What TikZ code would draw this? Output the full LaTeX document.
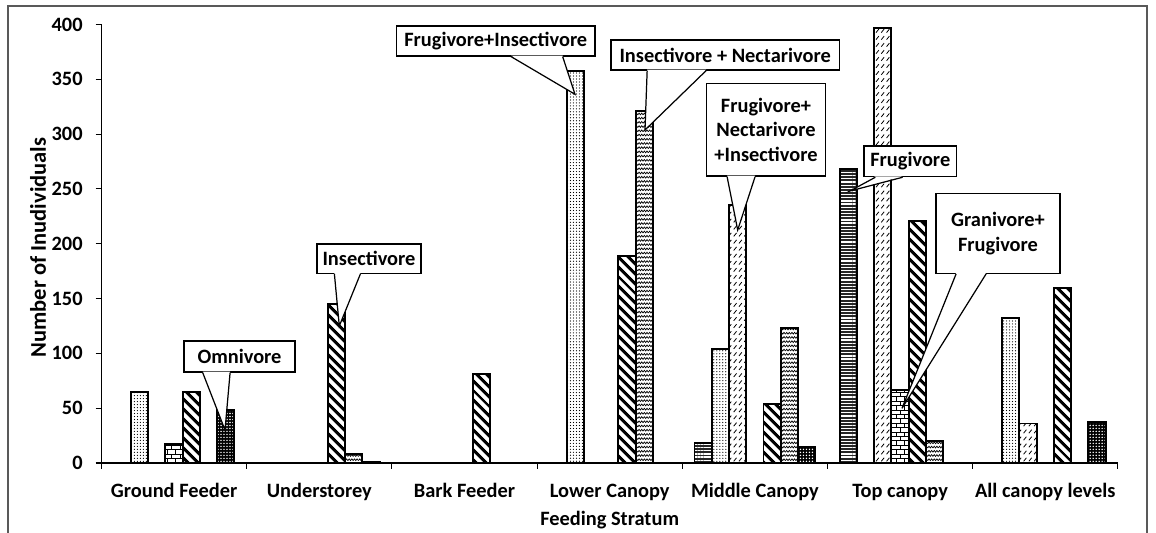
\documentclass[tikz,border=0pt]{standalone}
\usepackage{fontspec}
\setmainfont{Carlito}
\usetikzlibrary{patterns,patterns.meta,calc}

\pgfdeclarepatternformonly{dashslash}{\pgfqpoint{-0.5pt}{-0.5pt}}{\pgfqpoint{3.5pt}{4.5pt}}{\pgfqpoint{3pt}{4pt}}{%
  \pgfsetlinewidth{0.45pt}
  \pgfpathmoveto{\pgfqpoint{0.6pt}{0.8pt}}
  \pgfpathlineto{\pgfqpoint{2.2pt}{2.8pt}}
  \pgfusepath{stroke}}
\pgfdeclarepatternformonly{wavelet}{\pgfqpoint{-0.5pt}{-0.5pt}}{\pgfqpoint{3.5pt}{3pt}}{\pgfqpoint{3pt}{2.4pt}}{%
  \pgfsetlinewidth{0.4pt}
  \pgfpathmoveto{\pgfqpoint{0pt}{0.4pt}}
  \pgfpathlineto{\pgfqpoint{0.75pt}{1.4pt}}
  \pgfpathlineto{\pgfqpoint{1.5pt}{0.4pt}}
  \pgfpathlineto{\pgfqpoint{2.25pt}{1.4pt}}
  \pgfpathlineto{\pgfqpoint{3pt}{0.4pt}}
  \pgfusepath{stroke}}
\pgfdeclarepatternformonly{smallbricks}{\pgfqpoint{-0.5pt}{-0.5pt}}{\pgfqpoint{5.5pt}{5.5pt}}{\pgfqpoint{5pt}{5pt}}{%
  \pgfsetlinewidth{0.45pt}
  \pgfpathmoveto{\pgfqpoint{0pt}{0pt}}\pgfpathlineto{\pgfqpoint{5pt}{0pt}}
  \pgfpathmoveto{\pgfqpoint{0pt}{2.5pt}}\pgfpathlineto{\pgfqpoint{5pt}{2.5pt}}
  \pgfpathmoveto{\pgfqpoint{0pt}{0pt}}\pgfpathlineto{\pgfqpoint{0pt}{2.5pt}}
  \pgfpathmoveto{\pgfqpoint{2.5pt}{2.5pt}}\pgfpathlineto{\pgfqpoint{2.5pt}{5pt}}
  \pgfusepath{stroke}}

\tikzset{
  bar/.style={draw=black, line width=1.1pt},
  ser0/.style={bar, preaction={fill=black!85}, pattern={Lines[angle=0,distance=1.8pt,line width=0.7pt]}, pattern color=white},
  ser1/.style={bar, pattern={Dots[distance=1.7pt,radius=0.35pt]}},
  ser2/.style={bar, pattern=dashslash},
  ser3/.style={bar, pattern=smallbricks},
  ser4/.style={bar, pattern={Lines[angle=-45,distance=4pt,line width=1.8pt]}},
  ser5/.style={bar, pattern=wavelet},
  ser6/.style={bar, preaction={fill=black}, pattern={Dots[distance=1.7pt,radius=0.45pt]}, pattern color=white},
  axisline/.style={line width=0.6pt},
  callbox/.style={draw, fill=white, line width=0.7pt, inner sep=0pt, align=center},
  callline/.style={line width=0.7pt, line join=miter}
}

\begin{document}
\begin{tikzpicture}[x=0.02cm, y=0.02cm, font=\fontsize{11.6}{14}\selectfont\bfseries]
\fill[white] (0,0) rectangle (1156,533);
\useasboundingbox (0,0) rectangle (1156,533);
\draw[black!65, line width=0.7pt] (8,-5) -- (8,527) -- (1147,527) -- (1147,-5);

% bars and axes
\begin{scope}[shift={(101.5,70)}, y=0.02192cm]
  \foreach \c/\s/\v in {0/1/65, 0/3/17, 0/4/65, 0/6/48,
                        1/4/145, 1/5/8, 1/6/1,
                        2/4/81,
                        3/1/358, 3/4/189, 3/5/321,
                        4/0/18, 4/1/104, 4/2/235, 4/4/54, 4/5/123, 4/6/15,
                        5/0/268, 5/2/397, 5/3/67, 5/4/221, 5/5/20,
                        6/1/132, 6/2/36, 6/4/160, 6/6/37}
    \draw[ser\s] ({\c*145.2+12.2+\s*17.25},0) rectangle ++(17.25,\v);
  \draw[axisline] (0,400) -- (0,0) -- (1016.4,0);
  \foreach \t in {0,50,...,400} {
    \draw[axisline] (-6,\t) -- (0,\t);
    \node[anchor=east, inner sep=0pt] (yt\t) at (-18.5,\t) {\t};
  }
  \foreach \k in {0,...,7}
    \draw[axisline] ({\k*145.2},0) -- ({\k*145.2},-5.5);
\end{scope}

\foreach \n [count=\k from 0] in {Ground Feeder, Understorey, Bark Feeder, Lower Canopy,
                                   Middle Canopy, Top canopy, All canopy levels}
  \node[anchor=base, inner sep=0pt] (cat\k) at ({101.5+145.2*(\k+0.5)},35.7) {\n};
\node[rotate=90, inner sep=0pt, font=\fontsize{12.8}{14}\selectfont\bfseries] (ytitle) at (38,285.5) {Number of Inudividuals};
\node[anchor=base, inner sep=0pt] (xtitle) at (609.7,7) {Feeding Stratum};

% callouts
\foreach \nm/\cx/\cy/\w/\h/\bl/\br/\tx/\ty/\txt in {
    om/239.5/176.5/2.22/0.62/19.3/46.7/225/103/{Omnivore},
    ins/369/274.3/2.08/0.586/18/44/339.3/207/{Insectivore},
    fi/495.8/492/3.966/0.6/115/166.6/575/438.7/{Frugivore+Insectivore},
    inn/725.2/478/4.566/0.6/36.7/95.7/645/403/{Insectivore + Nectarivore},
    fni/766/403.3/2.372/1.854/21/49/737.7/303/{Frugivore+\\Nectarivore\\+Insectivore},
    fr/910.3/371.7/1.854/0.614/12/39.3/850/342/{Frugivore},
    gf/998/299.6/2.48/1.596/20.7/50.7/902/124.7/{Granivore+\\Frugivore}} {
  \coordinate (\nm tip) at (\tx,\ty);
  \node[callbox, minimum width=\w cm, minimum height=\h cm] (\nm) at (\cx,\cy) {\txt};
  \fill[white] ($(\nm.south west)+(\bl,1)$) -- (\nm tip) -- ($(\nm.south west)+(\br,1)$) -- cycle;
  \draw[callline] ($(\nm.south west)+(\bl,0)$) -- (\nm tip) -- ($(\nm.south west)+(\br,0)$);
}
\end{tikzpicture}
\end{document}
